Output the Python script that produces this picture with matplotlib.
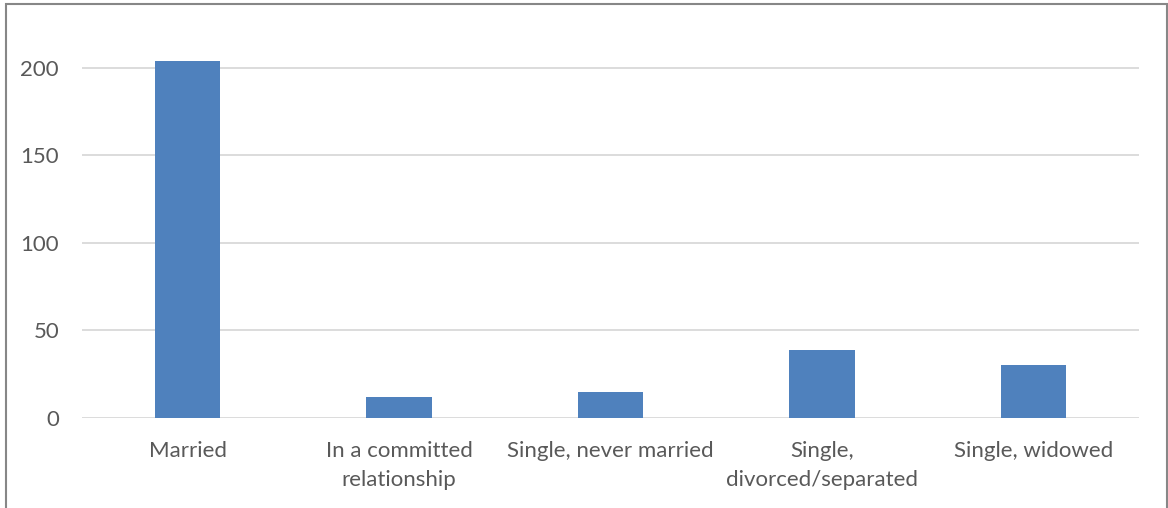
import matplotlib
matplotlib.use("Agg")
import matplotlib.pyplot as plt
from matplotlib.patches import Rectangle

categories = ["Married", "In a committed\nrelationship", "Single, never married",
              "Single,\ndivorced/separated", "Single, widowed"]
values = [204, 12, 15, 39, 30]
yticks = [0, 50, 100, 150, 200]

W, H = 1168, 508
fig = plt.figure(figsize=(W / 100, H / 100), dpi=100)
plt.rcParams['font.family'] = ['Lato', 'DejaVu Sans']

ax = fig.add_axes([82 / W, 1 - 418 / H, (1139 - 82) / W, (418 - 20) / H])
x = range(len(categories))
ax.bar(x, values, width=0.31, color="#4f81bd", zorder=3)
ax.set_xlim(-0.5, len(categories) - 0.5)
ax.set_ylim(0, 227.4)
ax.set_yticks(yticks)
ax.set_yticklabels([str(t) for t in yticks])
ax.set_xticks(list(x))
ax.set_xticklabels(categories, linespacing=1.58)
for s in ax.spines.values():
    s.set_visible(False)
ax.grid(axis="y", color="#d9d9d9", linewidth=1.3, zorder=0)
ax.tick_params(axis="both", length=0, colors="#595959", labelsize=16)
ax.tick_params(axis="y", pad=16.5)
ax.tick_params(axis="x", pad=16.5)

fig.patches.append(Rectangle((6 / W, -0.1), (1167 - 6) / W, 1.1 - 4 / H,
                             transform=fig.transFigure, fill=False,
                             edgecolor="#878787", linewidth=1.5))

fig.savefig("out.png", dpi=100)
